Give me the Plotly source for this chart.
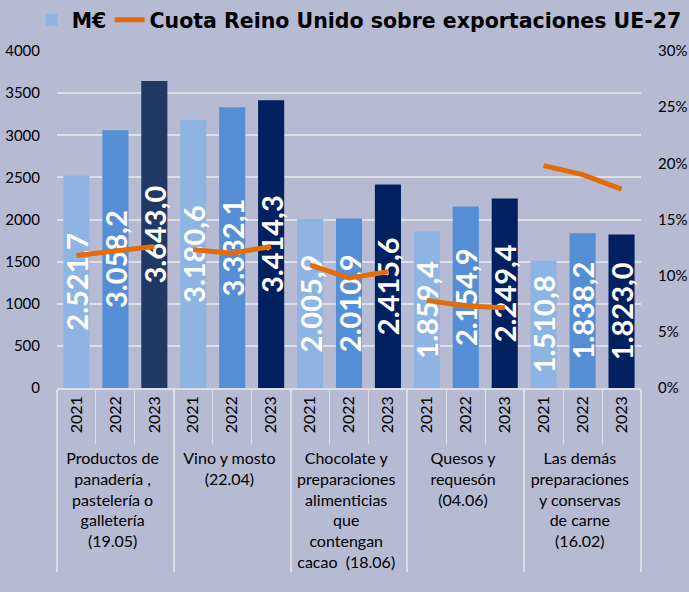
import plotly.graph_objects as go

groups = [
    "Productos de<br>panadería ,<br>pastelería o<br>galletería<br>(19.05)",
    "Vino y mosto<br>(22.04)",
    "Chocolate y<br>preparaciones<br>alimenticias<br>que<br>contengan<br>cacao  (18.06)",
    "Quesos y<br>requesón<br>(04.06)",
    "Las demás<br>preparaciones<br>y conservas<br>de carne<br>(16.02)",
]
years = ["2021", "2022", "2023"]

values_meur = [
    [2521.7, 3058.2, 3643.0],
    [3180.6, 3332.1, 3414.3],
    [2005.9, 2010.9, 2415.6],
    [1859.4, 2154.9, 2249.4],
    [1510.8, 1838.2, 1823.0],
]
share_uk = [
    [11.8, 12.2, 12.6],
    [12.3, 12.0, 12.6],
    [10.95, 9.8, 10.35],
    [7.8, 7.3, 7.15],
    [19.8, 19.0, 17.7],
]
year_colors = ["#8EB4E3", "#558ED5", "#002060"]
first_dark = "#1F3864"

BG = "#B6BAD3"
GRID = "#DCDEE8"
FONT = "Lato"
LEG_FONT = dict(family="DejaVu Sans", size=20.5, color="black", weight="bold")


def fmt_es(v):
    s = f"{v:,.1f}"
    return s.replace(",", "X").replace(".", ",").replace("X", ".")


xg, xy, yv, cols, txt = [], [], [], [], []
for gi, g in enumerate(groups):
    for yi, y in enumerate(years):
        xg.append(g)
        xy.append(y)
        yv.append(values_meur[gi][yi])
        c = year_colors[yi]
        if gi == 0 and yi == 2:
            c = first_dark
        cols.append(c)
        txt.append(fmt_es(values_meur[gi][yi]))

fig = go.Figure()
fig.add_trace(go.Bar(
    x=[xg, xy], y=yv, name="M€", legend="legend",
    marker=dict(color=cols, line=dict(width=0)),
    text=txt, textposition="inside", insidetextanchor="middle",
    textangle=-90, constraintext="none", cliponaxis=False,
    textfont=dict(family=FONT, size=29, color="white", weight="bold"),
))

for gi, g in enumerate(groups):
    fig.add_trace(go.Scatter(
        x=[[g] * 3, years], y=share_uk[gi], yaxis="y2", legend="legend2",
        mode="lines", name="Cuota Reino Unido sobre exportaciones UE-27",
        line=dict(color="#E36C0A", width=5),
        legendgroup="cuota", showlegend=(gi == 0),
    ))

fig.update_layout(
    width=689, height=592,
    paper_bgcolor=BG, plot_bgcolor=BG,
    margin=dict(l=57, r=48, t=51, b=204, autoexpand=False),
    font=dict(family=FONT, size=15, color="black"),
    bargap=0.33,
    showlegend=True,
    legend=dict(orientation="h", xref="container", yref="container",
                x=0.046, xanchor="left", y=1.0, yanchor="top",
                font=LEG_FONT, bgcolor="rgba(0,0,0,0)"),
    legend2=dict(orientation="h", xref="container", yref="container",
                 x=0.159, xanchor="left", y=1.0, yanchor="top",
                 font=LEG_FONT, bgcolor="rgba(0,0,0,0)"),
    xaxis=dict(type="multicategory", tickangle=-90, showgrid=False, automargin=False,
               showline=True, linecolor=GRID, linewidth=1.5,
               ticks="outside", tickson="boundaries", ticklen=54, tickcolor=GRID,
               showdividers=True, dividercolor=GRID, dividerwidth=1.5,
               tickfont=dict(family=FONT, size=16, color="black")),
    yaxis=dict(range=[0, 4000], dtick=500, showgrid=True, gridcolor=GRID, gridwidth=1.5,
               automargin=False,
               zeroline=False, showline=False, ticks="", ticklabelstandoff=16,
               tickfont=dict(family=FONT, size=15, color="black")),
    yaxis2=dict(range=[0, 30], dtick=5, ticksuffix="%", overlaying="y", side="right",
                automargin=False,
                showgrid=False, zeroline=False, showline=False, ticklabelstandoff=16,
                tickfont=dict(family=FONT, size=15, color="black")),
)

fig.write_html(
    "out.html",
    config={"displayModeBar": False},
    post_script="document.body.style.margin='0';document.body.style.background='" + BG + "';",
)
